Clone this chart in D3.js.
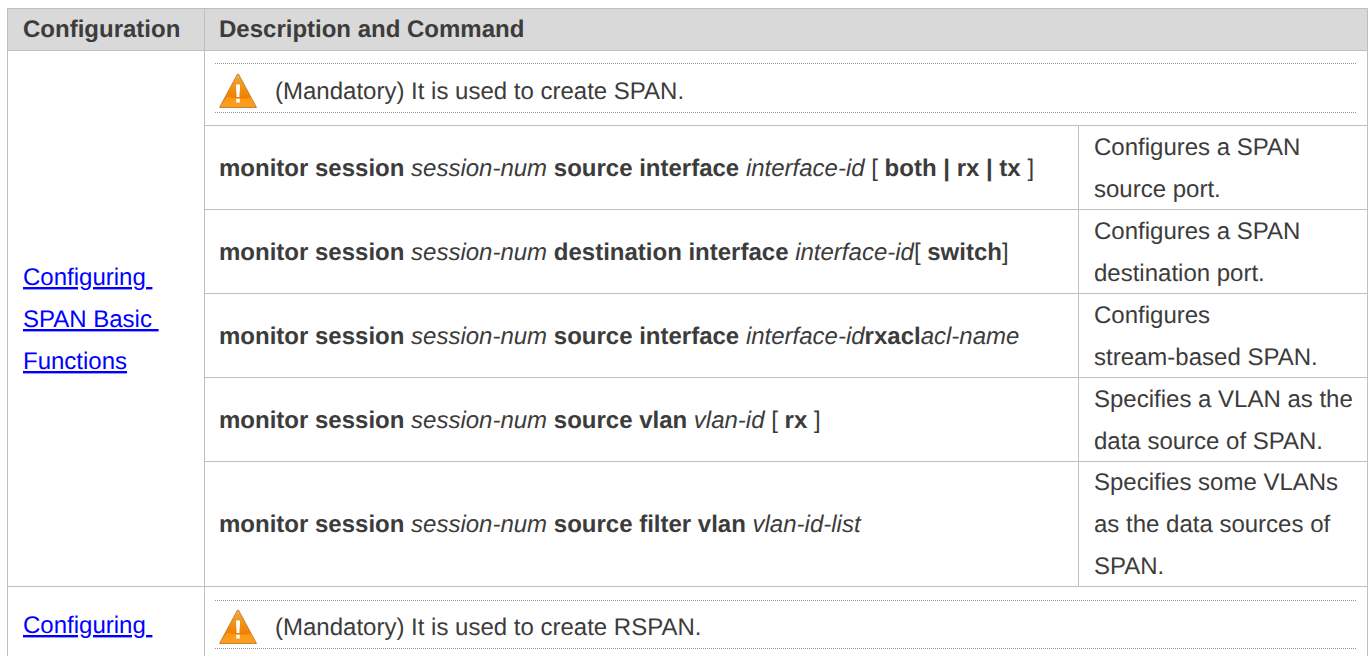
<!DOCTYPE html>
<html>
<head>
<meta charset="utf-8">
<title>SPAN configuration table</title>
<style>
    html, body { margin: 0; padding: 0; background: #fff; overflow: hidden; }
    text { font-family: "Liberation Sans", Arial, sans-serif; font-size: 24px; fill: #3c3c3c; white-space: pre; text-rendering: geometricPrecision; }
    .head { font-weight: bold; }
    .link { fill: #0000ff; text-decoration: underline; }
    .b { font-weight: bold; }
    .i { font-style: italic; }
</style>
<script src="https://cdnjs.cloudflare.com/ajax/libs/d3/7.8.5/d3.min.js"></script>
</head>
<body>
<div id="demo"></div>
<script>
    var headers = ['Configuration', 'Description and Command'];
    var linkLines = ['Configuring ', 'SPAN Basic ', 'Functions'];
    var linkLines2 = ['Configuring '];
    var warnings = ['(Mandatory) It is used to create SPAN.', '(Mandatory) It is used to create RSPAN.'];

    // command text, b = bold, i = italic, n = normal
    var commands = [
        [['b', 'monitor session '], ['i', 'session-num '], ['b', 'source interface '], ['i', 'interface-id '], ['n', '[ '], ['b', 'both | rx | tx '], ['n', ']']],
        [['b', 'monitor session '], ['i', 'session-num '], ['b', 'destination interface '], ['i', 'interface-id'], ['n', '[ '], ['b', 'switch'], ['n', ']']],
        [['b', 'monitor session '], ['i', 'session-num '], ['b', 'source interface '], ['i', 'interface-id'], ['b', 'rxacl'], ['i', 'acl-name']],
        [['b', 'monitor session '], ['i', 'session-num '], ['b', 'source vlan '], ['i', 'vlan-id '], ['n', '[ '], ['b', 'rx '], ['n', ']']],
        [['b', 'monitor session '], ['i', 'session-num '], ['b', 'source filter vlan '], ['i', 'vlan-id-list']]
    ];
    var notes = [
        ['Configures a SPAN', 'source port.'],
        ['Configures a SPAN', 'destination port.'],
        ['Configures', 'stream-based SPAN.'],
        ['Specifies a VLAN as the', 'data source of SPAN.'],
        ['Specifies some VLANs', 'as the data sources of', 'SPAN.']
    ];

    var width = 1369, height = 656;
    var lineH = 42;
    var left = 7.5, colA = 204.5, colB = 1078.5, right = 1367.5;
    var headTop = 8.5, headBottom = 50.5, warnBottom = 125.5, spanBottom = 586.5;
    var dotLeft = 215, dotRight = 1356;

    var svg = d3.select('#demo').append('svg')
        .attr('width', width)
        .attr('height', height)
        .style('display', 'block');

    var defs = svg.append('defs');
    var grad = defs.append('linearGradient')
        .attr('id', 'warn').attr('x1', 0).attr('y1', 0).attr('x2', 0).attr('y2', 1);
    grad.append('stop').attr('offset', '0%').attr('stop-color', '#eeb060');
    grad.append('stop').attr('offset', '25%').attr('stop-color', '#f29a20');
    grad.append('stop').attr('offset', '70%').attr('stop-color', '#f08000');
    grad.append('stop').attr('offset', '100%').attr('stop-color', '#ff9410');

    // row bottoms come from the number of lines in each note
    var rowY = [warnBottom];
    notes.forEach(function(n) {
        rowY.push(rowY[rowY.length - 1] + (n.length * lineH));
    });
    rowY[rowY.length - 1] = spanBottom;

    // header band
    svg.append('rect')
        .attr('x', left).attr('y', headTop)
        .attr('width', right - left).attr('height', headBottom - headTop)
        .attr('fill', '#d9d9d9');

    svg.selectAll('text.head')
        .data(headers)
      .enter().append('text')
        .attr('class', 'head')
        .attr('x', function(d, i) { return i === 0 ? 23 : 219; })
        .attr('y', 37)
        .text(function(d) { return d; });

    // grid lines
    function hline(x1, x2, y) {
        svg.append('line').attr('x1', x1).attr('x2', x2).attr('y1', y).attr('y2', y)
            .attr('stroke', '#bfbfbf').attr('stroke-width', 1);
    }
    function vline(x, y1, y2) {
        svg.append('line').attr('x1', x).attr('x2', x).attr('y1', y1).attr('y2', y2)
            .attr('stroke', '#bfbfbf').attr('stroke-width', 1);
    }
    hline(left, right, headTop);
    hline(left, right, headBottom);
    hline(left, right, spanBottom);
    rowY.slice(0, -1).forEach(function(y) { hline(colA, right, y); });
    vline(left, headTop, height);
    vline(colA, headTop, height);
    vline(right, headTop, height);
    vline(colB, warnBottom, spanBottom);

    // warning rows
    function warningRow(top, bottom, label) {
        [top, bottom].forEach(function(y) {
            svg.append('line')
                .attr('x1', dotLeft).attr('x2', dotRight).attr('y1', y).attr('y2', y)
                .attr('stroke', '#999').attr('stroke-width', 1)
                .attr('stroke-dasharray', '1 1');
        });
        var g = svg.append('g').attr('transform', 'translate(219,' + (bottom - 5) + ')');
        g.append('path')
            .attr('d', 'M0.5,0 L18.5,-33.5 L19.5,-33.5 L37.5,0 Z')
            .attr('fill', 'url(#warn)')
            .attr('stroke', '#b9762c').attr('stroke-width', 0.8);
        g.append('path')
            .attr('d', 'M2,-1 L8,-11 Q20,-7 32,-10 L36,-1 Z')
            .attr('fill', '#ffa928').attr('opacity', 0.6);
        g.append('path').attr('d', 'M16.9,-23 L21.1,-23 L20.4,-10.5 L17.6,-10.5 Z').attr('fill', '#fff');
        g.append('rect').attr('x', 17.2).attr('y', -8.8).attr('width', 3.6).attr('height', 3.8).attr('fill', '#fff');
        svg.append('text')
            .attr('x', 275).attr('y', bottom - 14)
            .text(label);
    }
    warningRow(63.5, 112.5, warnings[0]);
    warningRow(600.5, 648.5, warnings[1]);

    // command rows
    commands.forEach(function(cmd, i) {
        var t = svg.append('text')
            .attr('x', 219)
            .attr('y', (rowY[i] + rowY[i + 1]) / 2 + 8);
        t.selectAll('tspan')
            .data(cmd)
          .enter().append('tspan')
            .attr('class', function(d) { return d[0]; })
            .text(function(d) { return d[1]; });
    });

    // notes column
    notes.forEach(function(note, i) {
        var mid = (rowY[i] + rowY[i + 1]) / 2;
        svg.selectAll('text.note' + i)
            .data(note)
          .enter().append('text')
            .attr('class', 'note' + i)
            .attr('x', 1094)
            .attr('y', function(d, j) { return mid + 8 + (j - (note.length - 1) / 2) * lineH; })
            .text(function(d) { return d; });
    });

    // links in the first column
    svg.selectAll('text.link1')
        .data(linkLines)
      .enter().append('text')
        .attr('class', 'link link1')
        .attr('x', 23)
        .attr('y', function(d, i) { return 285 + i * lineH; })
        .text(function(d) { return d; });
    svg.selectAll('text.link2')
        .data(linkLines2)
      .enter().append('text')
        .attr('class', 'link link2')
        .attr('x', 23)
        .attr('y', 633)
        .text(function(d) { return d; });
</script>
</body>
</html>
